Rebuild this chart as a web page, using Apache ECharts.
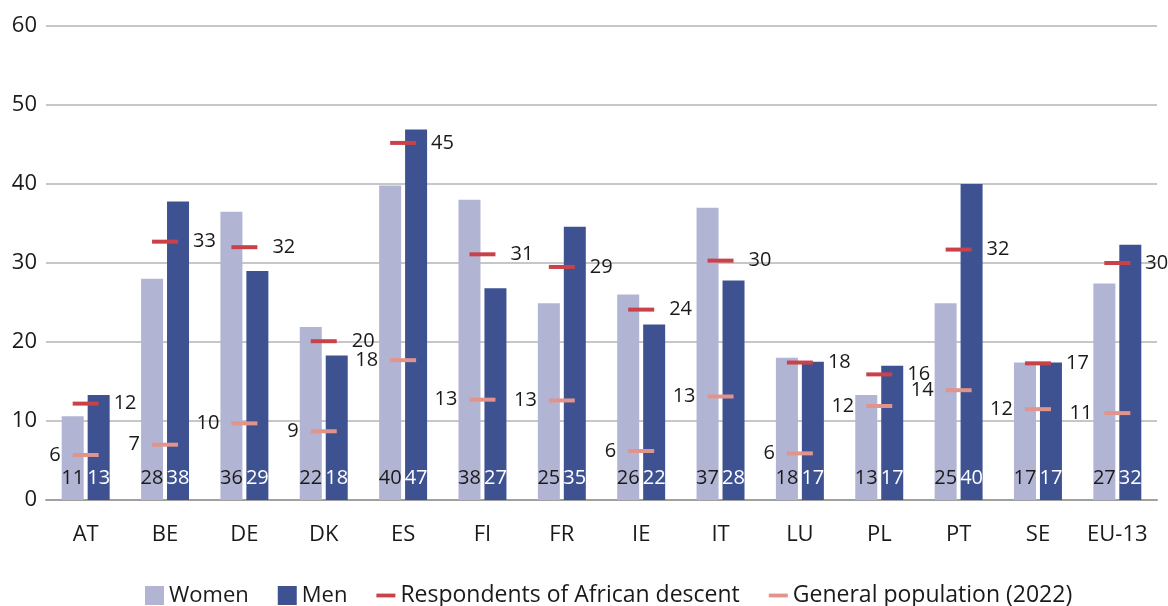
<!DOCTYPE html>
<html>
<head>
<meta charset="utf-8">
<script src="https://cdn.jsdelivr.net/npm/echarts@6/dist/echarts.min.js"></script>
<style>
html,body{margin:0;padding:0;background:#fff;}
#chart{width:1168px;height:606px;}
</style>
</head>
<body>
<div id="chart"></div>
<script>
const categories = ['AT','BE','DE','DK','ES','FI','FR','IE','IT','LU','PL','PT','SE','EU-13'];
const women = [10.6, 28.0, 36.5, 21.9, 39.8, 38.0, 24.9, 26.0, 37.0, 18.0, 13.3, 24.9, 17.4, 27.4];
const men = [13.3, 37.8, 29.0, 18.3, 46.9, 26.8, 34.6, 22.2, 27.8, 17.5, 17.0, 40.0, 17.4, 32.3];
const african = [12.2, 32.7, 32.0, 20.1, 45.2, 31.1, 29.5, 24.1, 30.3, 17.4, 15.9, 31.7, 17.3, 30.0];
const generalPop = [5.7, 7.0, 9.7, 8.7, 17.7, 12.7, 12.6, 6.2, 13.1, 5.9, 11.9, 13.9, 11.5, 11.0];
const womenLabels = ['11','28','36','22','40','38','25','26','37','18','13','25','17','27'];
const menLabels = ['13','38','29','18','47','27','35','22','28','17','17','40','17','32'];
const africanLabels = ['12','33','32','20','45','31','29','24','30','18','16','32','17','30'];
const generalLabels = ['6','7','10','9','18','13','13','6','13','6','12','14','12','11'];
const yTicks = [0,10,20,30,40,50,60];

const FONT = '"Open Sans", "Noto Sans", sans-serif';
const dashIcon = 'path://M0,0L0,0M20,20L20,20M0,8L20,8L20,12L0,12Z';

const chart = echarts.init(document.getElementById('chart'));
chart.setOption({
  animation: false,
  textStyle: {fontFamily: FONT},
  grid: {left: 46, right: 11, top: 26, bottom: 106, containLabel: false},
  legend: {
    left: 140, top: 579,
    itemWidth: 19, itemHeight: 19, itemGap: 29,
    textStyle: {fontSize: 22, color: '#1a1a1a', fontFamily: FONT},
    data: [
      {name: 'Women', icon: 'rect'},
      {name: 'Men', icon: 'rect'},
      {name: 'Respondents of African descent', icon: dashIcon, textStyle: {fontSize: 23}},
      {name: 'General population (2022)', icon: dashIcon, textStyle: {fontSize: 23}}
    ]
  },
  xAxis: {
    type: 'category', data: categories,
    axisTick: {show: false},
    axisLine: {lineStyle: {color: '#a0a0a0', width: 2}},
    axisLabel: {fontSize: 22, color: '#1a1a1a', margin: 24, fontFamily: FONT}
  },
  yAxis: {
    type: 'value', min: yTicks[0], max: yTicks[yTicks.length-1], interval: 10,
    axisLine: {show: false}, axisTick: {show: false},
    axisLabel: {fontSize: 22, color: '#1a1a1a', margin: 9, fontFamily: FONT},
    splitLine: {lineStyle: {color: '#b4b4b4', width: 1.5}}
  },
  series: [
    {
      name: 'Women', type: 'bar', data: women, barWidth: 22, barGap: '18%',
      itemStyle: {color: '#b2b4d4'},
      label: {show: true, position: 'insideBottom', distance: 12, fontSize: 20, color: '#1a1a1a',
        formatter: p => womenLabels[p.dataIndex]}
    },
    {
      name: 'Men', type: 'bar', data: men, barWidth: 22,
      itemStyle: {color: '#3e5292'},
      label: {show: true, position: 'insideBottom', distance: 12, fontSize: 20, color: '#ffffff',
        formatter: p => menLabels[p.dataIndex]}
    },
    {
      name: 'Respondents of African descent', type: 'scatter', data: african,
      symbol: 'rect', symbolSize: [26, 4], z: 5,
      itemStyle: {color: '#c9424a', opacity: 1},
      label: {show: true, position: 'right', distance: 15, fontSize: 20, color: '#1a1a1a',
        formatter: p => africanLabels[p.dataIndex]}
    },
    {
      name: 'General population (2022)', type: 'scatter', data: generalPop,
      symbol: 'rect', symbolSize: [26, 4], z: 5,
      itemStyle: {color: '#e0948c', opacity: 1},
      label: {show: true, position: 'left', distance: 12, fontSize: 20, color: '#1a1a1a',
        formatter: p => generalLabels[p.dataIndex]}
    }
  ]
});
</script>
</body>
</html>
